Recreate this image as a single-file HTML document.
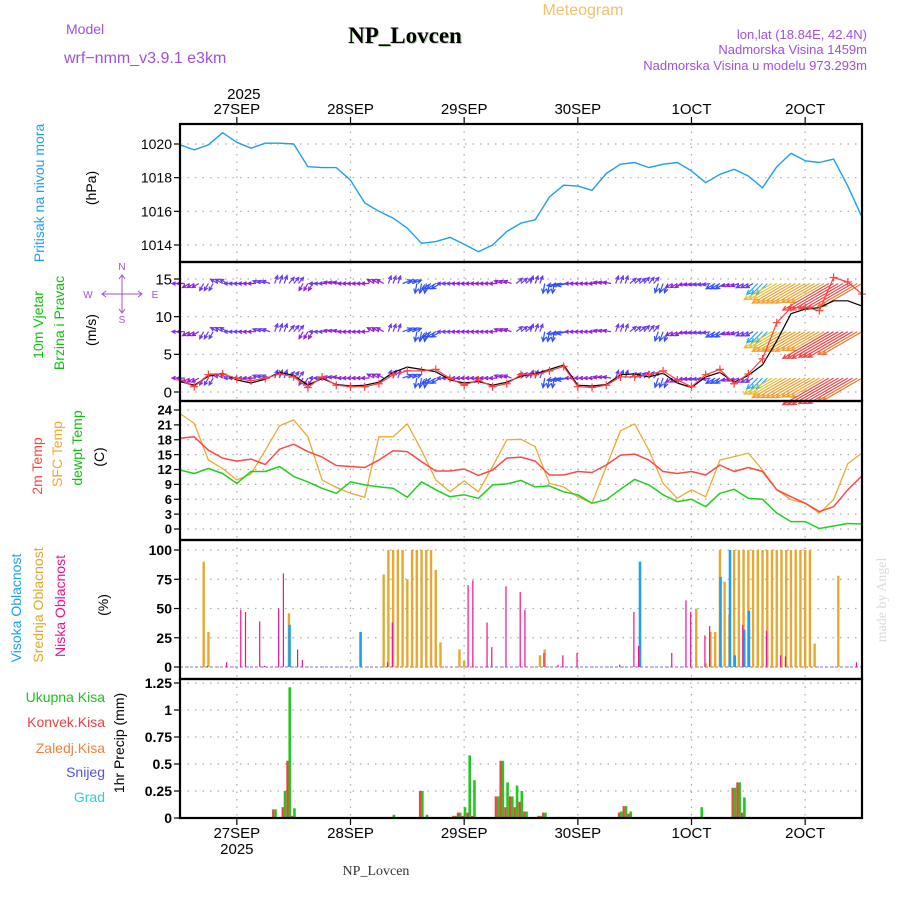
<!DOCTYPE html>
<html><head><meta charset="utf-8"><title>Meteogram NP_Lovcen</title>
<style>
html,body{margin:0;padding:0;background:#fff;}
svg{display:block;font-family:"Liberation Sans",sans-serif;}
</style></head>
<body>
<svg id="chart" width="900" height="900" viewBox="0 0 900 900" xmlns="http://www.w3.org/2000/svg">
<g>
<text x="583" y="15" font-size="16" fill="#f0c070" text-anchor="middle">Meteogram</text>
<text x="66" y="34" font-size="14" fill="#a050e0">Model</text>
<text x="406" y="44" font-size="23" font-weight="bold" font-family="Liberation Serif,serif" fill="#b8d8b0" text-anchor="middle">NP_Lovcen</text>
<text x="405" y="43" font-size="23" font-weight="bold" font-family="Liberation Serif,serif" fill="#000" text-anchor="middle">NP_Lovcen</text>
<text x="64" y="63" font-size="16" fill="#a050e0">wrf−nmm_v3.9.1 e3km</text>
<text x="867" y="39" font-size="13" fill="#a050e0" text-anchor="end">lon,lat (18.84E, 42.4N)</text>
<text x="867" y="54" font-size="13" fill="#a050e0" text-anchor="end">Nadmorska Visina 1459m</text>
<text x="867" y="70" font-size="13" fill="#a050e0" text-anchor="end">Nadmorska Visina u modelu 973.293m</text>
</g>
<g>
<text transform="translate(44,193) rotate(-90)" font-size="14" fill="#1ea0f0" text-anchor="middle">Pritisak na nivou mora</text>
<text transform="translate(96,188) rotate(-90)" font-size="14" fill="#000" text-anchor="middle">(hPa)</text>
<text transform="translate(43,325) rotate(-90)" font-size="14" fill="#10c010" text-anchor="middle">10m Vjetar</text>
<text transform="translate(64,323) rotate(-90)" font-size="14" fill="#10c010" text-anchor="middle">Brzina i Pravac</text>
<text transform="translate(96,330) rotate(-90)" font-size="14" fill="#000" text-anchor="middle">(m/s)</text>
<g fill="#a050e0" stroke="#a050e0" font-size="10">
<text x="122" y="270" text-anchor="middle" stroke="none">N</text>
<text x="122" y="323" text-anchor="middle" stroke="none">S</text>
<text x="88" y="298" text-anchor="middle" stroke="none">W</text>
<text x="155" y="298" text-anchor="middle" stroke="none">E</text>
<path d="M102 294h40 M122 276v36 M106 291l-4 3 4 3 M138 291l4 3-4 3 M119 279l3-4 3 4 M119 309l3 4 3-4" fill="none" stroke-width="1"/>
</g>
<text transform="translate(42,466) rotate(-90)" font-size="14" fill="#ff4040" text-anchor="middle">2m Temp</text>
<text transform="translate(62,454) rotate(-90)" font-size="14" fill="#f0a830" text-anchor="middle">SFC Temp</text>
<text transform="translate(82,448) rotate(-90)" font-size="14" fill="#10c010" text-anchor="middle">dewpt Temp</text>
<text transform="translate(104,457) rotate(-90)" font-size="14" fill="#000" text-anchor="middle">(C)</text>
<text transform="translate(21,608) rotate(-90)" font-size="14" fill="#1ea0f0" text-anchor="middle">Visoka Oblacnost</text>
<text transform="translate(43,605) rotate(-90)" font-size="14" fill="#e0a830" text-anchor="middle">Srednja Oblacnost</text>
<text transform="translate(65,606) rotate(-90)" font-size="14" fill="#f01090" text-anchor="middle">Niska Oblacnost</text>
<text transform="translate(108,605) rotate(-90)" font-size="14" fill="#000" text-anchor="middle">(%)</text>
<text x="105" y="702" font-size="14" fill="#20c020" text-anchor="end">Ukupna  Kisa</text>
<text x="105" y="727" font-size="14" fill="#f04040" text-anchor="end">Konvek.Kisa</text>
<text x="105" y="753" font-size="14" fill="#f08040" text-anchor="end">Zaledj.Kisa</text>
<text x="105" y="777" font-size="14" fill="#5050f0" text-anchor="end">Snijeg</text>
<text x="105" y="802" font-size="14" fill="#30d0d0" text-anchor="end">Grad</text>
<text transform="translate(124,743) rotate(-90)" font-size="14" fill="#000" text-anchor="middle">1hr Precip (mm)</text>
<text transform="translate(886,600) rotate(-90)" font-size="14" fill="#d8dcd8" text-anchor="middle" font-family="Liberation Serif,serif">made by Angel</text>
<text x="376" y="875" font-size="14" fill="#333" text-anchor="middle" font-family="Liberation Serif,serif">NP_Lovcen</text>
</g>
<g id="plots"></g>
</svg>
<script>
// ---- data (3-hourly from 26SEP 12Z) ----
const hours = [0,3,6,9,12,15,18,21,24,27,30,33,36,39,42,45,48,51,54,57,60,63,66,69,72,75,78,81,84,87,90,93,96,99,102,105,108,111,114,117,120,123,126,129,132,135,138,141,144];
const dayLabels = ["27SEP","28SEP","29SEP","30SEP","1OCT","2OCT"];
const dayHours = [12,36,60,84,108,132];
const pressure = [1019.95,1019.65,1019.95,1020.67,1020.1,1019.75,1020.05,1020.05,1020.0,1018.65,1018.6,1018.6,1017.85,1016.5,1016.0,1015.6,1015.0,1014.1,1014.2,1014.45,1014.05,1013.6,1014.0,1014.8,1015.3,1015.5,1016.85,1017.55,1017.5,1017.25,1018.25,1018.8,1018.9,1018.6,1018.8,1018.9,1018.4,1017.7,1018.2,1018.5,1018.1,1017.4,1018.65,1019.45,1019.0,1018.9,1019.1,1017.5,1015.65];
const pressureTicks = [1014,1016,1018,1020];
const windSpeed = [1.6,0.7,2.3,2.4,1.8,1.5,1.8,2.4,2.0,0.6,2.0,0.9,0.7,0.7,1.1,2.3,2.8,2.8,3.0,1.8,0.9,1.6,0.7,1.1,2.3,2.3,2.8,3.4,0.7,0.6,0.9,2.0,2.0,2.3,2.8,1.6,0.7,2.3,3.0,1.1,2.4,4.4,9.2,11.2,11.2,10.8,15.2,14.6,13.0];
const windGust = [1.4,0.9,2.1,2.5,1.6,1.2,1.7,2.6,2.2,0.9,1.8,1.0,0.8,0.9,1.3,2.6,3.3,3.0,2.7,1.6,1.2,1.4,0.9,1.3,2.1,2.4,3.0,3.6,0.9,0.8,1.0,2.3,2.4,2.0,2.5,1.2,0.6,2.0,2.6,1.3,2.2,3.6,6.8,10.4,11.0,11.2,12.1,12.1,11.4];
const windDir = [90,60,30,120,90,90,110,200,220,30,90,100,90,90,120,200,250,10,60,90,90,90,90,110,230,200,10,80,90,90,100,200,230,220,20,60,80,80,60,70,60,45,60,60,60,60,60,60,60];
const windTicks = [0,5,10,15];
const t2m = [18.3,18.6,15.9,14.3,13.7,14.1,13.0,16.1,17.1,15.6,14.5,12.8,12.6,12.4,13.9,15.8,15.6,13.6,11.7,11.7,12.1,10.8,11.9,14.3,14.5,13.7,10.9,10.9,11.6,11.4,12.9,14.9,15.1,13.9,11.6,11.2,11.6,10.9,12.9,11.6,12.4,11.6,7.9,6.5,5.2,3.5,4.5,7.9,10.7];
const tsfc = [23.3,21.3,13.9,12.2,9.9,11.1,15.9,20.8,22.0,18.6,9.9,8.4,7.2,6.4,18.6,18.6,21.2,15.9,9.9,7.5,9.7,7.5,12.6,18.0,18.1,16.6,9.2,8.5,6.5,5.2,12.6,19.8,21.2,15.9,9.2,6.2,7.9,6.5,13.9,14.6,15.3,11.9,7.9,5.9,5.2,3.2,5.9,13.2,15.3];
const tdew = [11.9,11.2,12.2,11.2,9.2,11.6,11.6,12.6,10.6,9.5,8.2,7.2,9.5,8.9,8.5,8.2,6.4,9.5,7.9,6.5,6.9,6.2,8.9,9.1,9.8,8.5,8.7,7.5,6.9,5.2,5.9,8.0,10.0,8.9,6.9,5.5,6.0,4.5,7.2,8.0,6.2,6.0,3.2,1.5,1.5,0.1,0.6,1.1,1.0];
const tempTicks = [0,3,6,9,12,15,18,21,24];
const midCloudHours = [5,6,23,43,44,45,46,47,48,49,50,51,52,53,54,55,59,60,76,77,109,111,112,113,114,115,116,117,118,119,120,121,122,123,124,125,126,127,128,129,130,131,132,133,134,139];
const midCloudVals = [90,30,46,79,100,100,100,100,75,100,100,100,100,100,83,21,15,5,10,15,50,3,30,30,100,73,45,100,100,100,100,100,100,100,100,100,100,100,100,100,100,100,100,100,20,78];
const highCloudHours = [23,38,97,114,116,117,119,120];
const highCloudVals = [36,30,90,77,100,10,32,48];
const lowCloudHours = [6,10,13,14,17,18,21,22,25,26,44,45,61,62,65,66,69,72,73,77,80,81,84,93,96,97,104,107,108,111,112,119,124,127,128,143];
const lowCloudVals = [1,4,49,47,39,1,50,80,15,6,4,38,70,74,38,17,69,64,49,12,2,10,12,2,47,18,12,57,47,27,35,36,31,10,9,4];
const cloudTicks = [0,25,50,75,100];
const precipHours = [20,22,23,24,45,51,52,58,59,60,61,62,67,68,69,70,71,72,73,76,77,80,83,93,94,95,110,111,117,118,119,120];
const precipTotal = [0.08,0.25,1.21,0.09,0.03,0.25,0.03,0.02,0.05,0.10,0.58,0.35,0.20,0.53,0.33,0.20,0.30,0.25,0.06,0.02,0.05,0.01,0.01,0.06,0.11,0.06,0.10,0.01,0.28,0.33,0.19,0.01];
const precipConv = [0.08,0.10,0.53,0.02,0.01,0.25,0.01,0.02,0.05,0.02,0.05,0.02,0.20,0.53,0.10,0.20,0.10,0.15,0.06,0.02,0.05,0.01,0.01,0.05,0.11,0.04,0.01,0.0,0.28,0.33,0.05,0.0];
const precipTicks = [0,0.25,0.5,0.75,1,1.25];
const precipTickLabels = ["0","0.25","0.5","0.75","1","1.25"];

// ---- layout ----
const X0 = 180, X1 = 862, HMAX = 144;
const xs = h => X0 + (X1 - X0) * h / HMAX;
const lin = (v0, y0, v1, y1) => v => y0 + (v - v0) * (y1 - y0) / (v1 - v0);
const yP = lin(1020, 144, 1014, 245);
const yW = lin(0, 392, 15, 279);
const yT = lin(0, 529, 24, 410);
const yC = lin(0, 667, 100, 550);
const yR = lin(0, 818, 1.25, 683);
const panels = [[124,262],[262,401],[401,540],[540,679],[679,818]];

const NS = "http://www.w3.org/2000/svg";
const root = document.getElementById("plots");
function mk(tag, attrs, parent) {
  const e = document.createElementNS(NS, tag);
  for (const k in attrs) e.setAttribute(k, attrs[k]);
  (parent || root).appendChild(e);
  return e;
}
function poly(vals, yf, color, name, width) {
  const pts = hours.map((h, i) => xs(h).toFixed(1) + "," + yf(vals[i]).toFixed(1)).join(" ");
  const p = mk("polyline", {points: pts, fill: "none", stroke: color, "stroke-width": width || 1.3, "stroke-linejoin": "round"});
  
  
  return p;
}

// grid
const grid = mk("g", {stroke: "#aaa", "stroke-width": 1.2, "stroke-dasharray": "1.5,6", fill: "none"});


panels.forEach(([a, b]) => {
  dayHours.forEach(h => mk("line", {x1: xs(h), x2: xs(h), y1: a, y2: b}, grid));
});
function hgrid(ticks, yf, labels, panelName, fs, bold) {
  const g = mk("g", {});
  
  
  ticks.forEach((t, i) => {
    const y = yf(t);
    mk("line", {x1: X0, x2: X1, y1: y, y2: y}, grid);
    mk("line", {x1: X0 - 6, x2: X0, y1: y, y2: y, stroke: "#000", "stroke-width": 1.2}, g);
    const tx = mk("text", {x: X0 - 8, y: y + fs * 0.36, "font-size": fs, "text-anchor": "end", fill: "#000", "font-weight": bold ? "bold" : "normal"}, g);
    tx.textContent = labels ? labels[i] : String(t);
  });
}
hgrid(pressureTicks, yP, null, "pressure", 14, false);
hgrid(windTicks, yW, null, "wind", 15, false);
hgrid(tempTicks, yT, null, "temperature", 13, true);
hgrid(cloudTicks, yC, null, "cloud", 14, true);
hgrid(precipTicks, yR, precipTickLabels, "precip", 14, true);

// pressure
poly(pressure, yP, "#1ea0f0", "pressure-line", 1.4);

// wind arrows
function windColor(s) {
  if (s < 1.8) return "#9020e0";
  if (s < 2.6) return "#6a3af0";
  if (s < 3.5) return "#3050ff";
  if (s < 6) return "#20b0f0";
  if (s < 8.5) return "#20c020";
  if (s < 10.5) return "#e8c030";
  if (s < 12.5) return "#f0a030";
  if (s < 14) return "#f07838";
  return "#f04848";
}
const wg = mk("g", {fill: "none", "stroke-width": 1.2});


const rows = [14.4, 8.0, 1.85];
rows.forEach(rv => {
  hours.forEach((h, i) => {
    const s = windSpeed[i], d = windDir[i] * Math.PI / 180;
    const L = Math.max(8, s * 3.5);
    const c = windColor(s);
    [-1, 0, 1].forEach(o => {
      const hh = h + o;
      if (hh < 0 || hh > HMAX) return;
      const x = xs(hh), y = yW(rv);
      const dx = -Math.sin(d) * L, dy = Math.cos(d) * L;
      const ex = x + dx, ey = y + dy;
      const ang = Math.atan2(dy, dx);
      const hl = Math.min(5, L * 0.5);
      const a1x = ex - hl * Math.cos(ang - 0.45), a1y = ey - hl * Math.sin(ang - 0.45);
      const a2x = ex - hl * Math.cos(ang + 0.45), a2y = ey - hl * Math.sin(ang + 0.45);
      mk("path", {d: `M${x.toFixed(1)} ${y.toFixed(1)}L${ex.toFixed(1)} ${ey.toFixed(1)}M${a1x.toFixed(1)} ${a1y.toFixed(1)}L${ex.toFixed(1)} ${ey.toFixed(1)}L${a2x.toFixed(1)} ${a2y.toFixed(1)}`, stroke: c}, wg);
    });
  });
});
poly(windGust, yW, "#000", "wind-gust-line", 1.2);
poly(windSpeed, yW, "#ff4040", "wind-speed-line", 1.2);
const wm = mk("g", {stroke: "#ff4040", "stroke-width": 1.2});


hours.forEach((h, i) => {
  const x = xs(h), y = yW(windSpeed[i]);
  mk("path", {d: `M${x-4} ${y}h8M${x} ${y-4}v8`}, wm);
});

// temperatures
poly(tsfc, yT, "#f0a830", "sfc-temp-line", 1.3);
poly(t2m, yT, "#ff4848", "t2m-line", 1.5);
poly(tdew, yT, "#20d020", "dewpt-line", 1.5);

// clouds
mk("line", {x1: X0, x2: X1, y1: yC(0), y2: yC(0), stroke: "#b0a0d0", "stroke-width": 1.5, "stroke-dasharray": "3,2"});
function cloudBars(hs, vals, color, w, off, name) {
  const g = mk("g", {fill: color});
  
  
  hs.forEach((h, i) => {
    const y = yC(vals[i]);
    const r = mk("rect", {x: xs(h) + off - w / 2, y: y, width: w, height: yC(0) - y}, g);
    
    
  });
}
cloudBars(midCloudHours, midCloudVals, "#e8a830", 2.4, 0, "mid-cloud");
cloudBars(highCloudHours, highCloudVals, "#1ea0f0", 2.6, 0.6, "high-cloud");
cloudBars(lowCloudHours, lowCloudVals, "#f01090", 1.2, -0.8, "low-cloud");

// precipitation
mk("line", {x1: X0, x2: X1, y1: yR(0), y2: yR(0), stroke: "#000", "stroke-width": 2, "stroke-dasharray": "5,2"});
const pg = mk("g", {});


precipHours.forEach((h, i) => {
  const x = xs(h);
  const yt = yR(precipTotal[i]);
  const g = mk("rect", {x: x - 0.5, y: yt, width: 2.6, height: yR(0) - yt, fill: "#20c820"}, pg);
  
  
  const yc = yR(precipConv[i]);
  const r = mk("rect", {x: x - 2.6, y: yc, width: 2.2, height: yR(0) - yc, fill: "#f04040"}, pg);
  
  
});

// frames
const fr = mk("g", {fill: "none", stroke: "#000", "stroke-width": 2.2});


panels.forEach(([a, b]) => mk("rect", {x: X0, y: a, width: X1 - X0, height: b - a}, fr));

// x axes
const xa = mk("g", {"font-size": 15, "text-anchor": "middle", fill: "#000"});


dayHours.forEach((h, i) => {
  const x = xs(h);
  mk("line", {x1: x, x2: x, y1: 117, y2: 124, stroke: "#000", "stroke-width": 1.2}, xa);
  mk("line", {x1: x, x2: x, y1: 818, y2: 825, stroke: "#000", "stroke-width": 1.2}, xa);
  const t1 = mk("text", {x: x, y: 114}, xa); t1.textContent = dayLabels[i];
  const t2 = mk("text", {x: x, y: 838}, xa); t2.textContent = dayLabels[i];
});
const y1 = mk("text", {x: xs(12) + 7, y: 99}, xa); y1.textContent = "2025";
const y2 = mk("text", {x: xs(12), y: 854}, xa); y2.textContent = "2025";
</script>
</body></html>
